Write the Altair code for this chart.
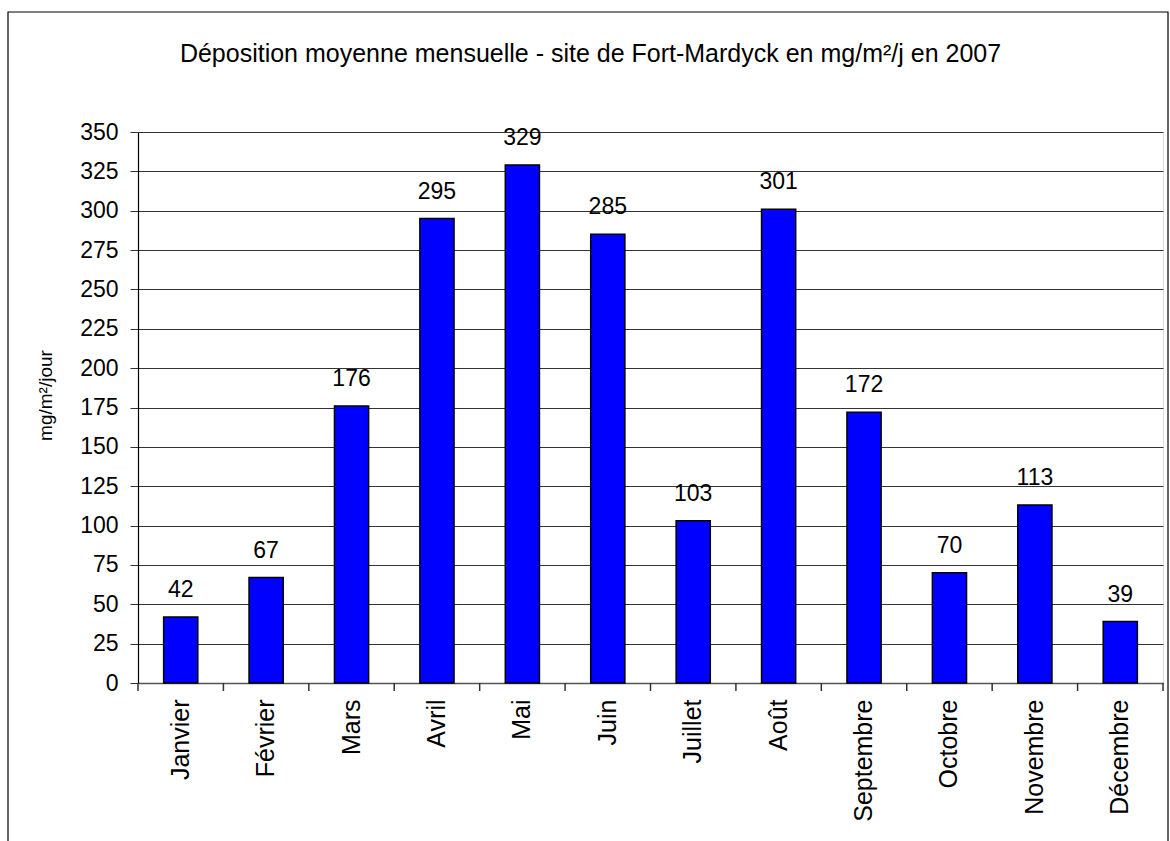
import altair as alt
import pandas as pd

months = ["Janvier", "Février", "Mars", "Avril", "Mai", "Juin", "Juillet",
          "Août", "Septembre", "Octobre", "Novembre", "Décembre"]
values = [42, 67, 176, 295, 329, 285, 103, 301, 172, 70, 113, 39]
y_ticks = list(range(0, 351, 25))

df = pd.DataFrame({"mois": months, "valeur": values})

FONT = "Liberation Sans"
W, H = 1025, 551
P_INNER = 0.6
STEP = W / len(months)

x_axis = alt.Axis(labelAngle=-90, labelAlign="right", labelBaseline="middle",
                  labelFontSize=25, labelFont=FONT, labelColor="black",
                  labelPadding=16, ticks=False, domainColor="#555555",
                  domainWidth=1.5, grid=False)
x_enc = alt.X("mois:N", sort=months, title=None,
              scale=alt.Scale(paddingInner=P_INNER, paddingOuter=P_INNER / 2), axis=x_axis)

y_axis = alt.Axis(values=y_ticks, labelOverlap=False, labelFontSize=23, labelFont=FONT,
                  labelColor="black", labelPadding=12, tickSize=8,
                  tickColor="#333333", domainColor="black", domainWidth=1.2,
                  gridColor="#333333", gridWidth=1,
                  titleFont=FONT, titleFontSize=19, titleFontWeight="normal",
                  titleColor="black", titleAngle=-90, titleX=-93, titleY=263,
                  titleAlign="center", titleBaseline="middle")
y_enc = alt.Y("valeur:Q", title="mg/m²/jour",
              scale=alt.Scale(domain=[0, 350], nice=False), axis=y_axis)

bars = alt.Chart(df).mark_bar(color="#0000FF", stroke="black", strokeWidth=1.5).encode(
    x=x_enc, y=y_enc)

labels = alt.Chart(df).mark_text(font=FONT, fontSize=23, color="black",
                                 baseline="alphabetic", dy=-20).encode(
    x=x_enc, y=y_enc, text="valeur:Q")

# category boundaries (Excel-style ticks between categories)
ticks = alt.Chart(df).mark_rule(color="#333333", strokeWidth=1.5, xOffset=-STEP / 2).encode(
    x=alt.X("mois:N", sort=months, axis=x_axis, title=None),
    y=alt.value(H), y2=alt.value(H + 8))

end_tick = alt.Chart(df.head(1)).mark_rule(color="#333333", strokeWidth=1.5).encode(
    x=alt.value(W), y=alt.value(H), y2=alt.value(H + 8))

frame = alt.Chart(df.head(1)).mark_rect(fill=None, stroke="black", strokeWidth=1.2).encode(
    x=alt.value(-130), x2=alt.value(1030), y=alt.value(-120), y2=alt.value(H + 200))

chart = alt.layer(frame, bars, labels, ticks, end_tick).properties(
    width=W, height=H,
    title=alt.Title("Déposition moyenne mensuelle - site de Fort-Mardyck en mg/m²/j en 2007",
                    font=FONT, fontSize=25, fontWeight="normal", color="black",
                    anchor="middle", dx=-60, offset=-76, baseline="alphabetic"),
    autosize="none",
    padding={"left": 138, "top": 132, "right": 7, "bottom": 158},
).configure_view(stroke="#808080", strokeWidth=2).configure(background="white")

chart.save("out.html", embed_options={"renderer": "svg", "actions": False})
